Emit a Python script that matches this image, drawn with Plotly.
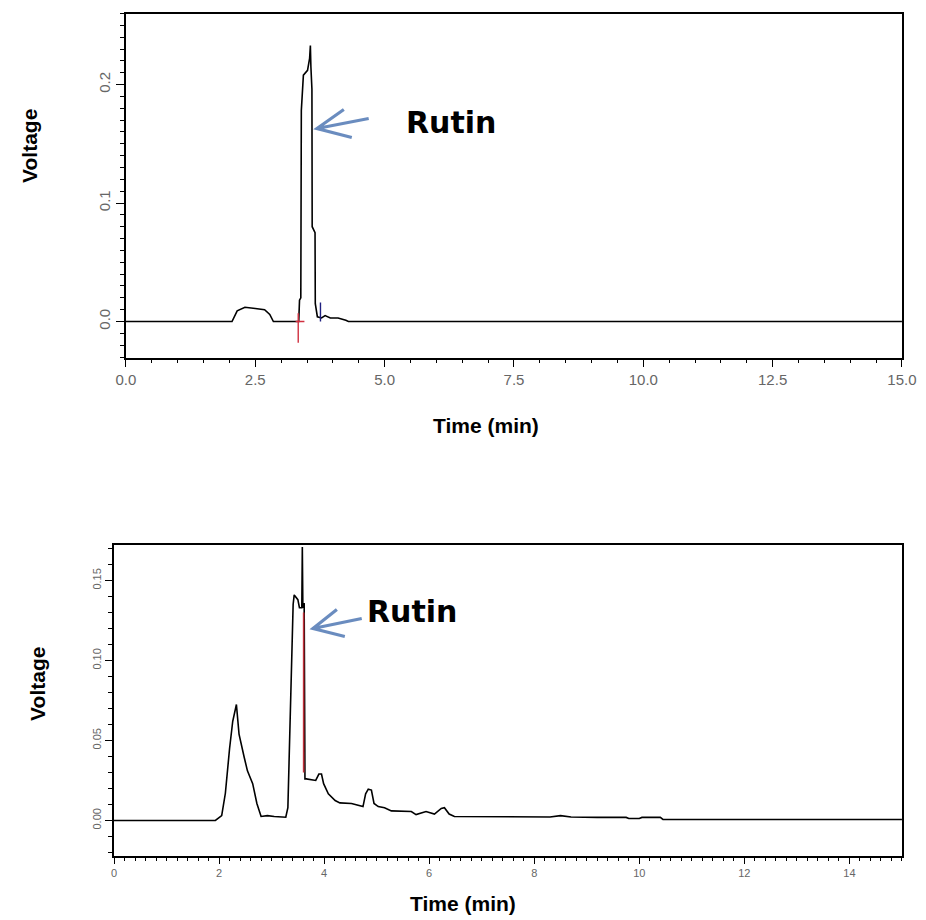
import plotly.graph_objects as go

# chromatogram 1 (standard) - time (min) / voltage
top_time = [0, 2.05, 2.15, 2.3, 2.5, 2.68, 2.78, 2.85, 3.34, 3.355, 3.38, 3.39, 3.43, 3.51,
            3.55, 3.565, 3.575, 3.595, 3.60, 3.655, 3.66, 3.70, 3.78, 3.85, 3.95, 4.1, 4.25, 4.3, 15]
top_volt = [0, 0, 0.009, 0.012, 0.011, 0.010, 0.006, 0.0, 0.0, 0.018, 0.02, 0.178, 0.208, 0.212,
            0.222, 0.233, 0.215, 0.196, 0.08, 0.075, 0.015, 0.004, 0.003, 0.005, 0.003, 0.003, 0.001, 0, 0]

# integration markers on chromatogram 1
top_red_time = [3.33, 3.33, None, 3.28, 3.45]
top_red_volt = [0.007, -0.018, None, 0.0, 0.0]
top_blue_time = [3.76, 3.76]
top_blue_volt = [0.0, 0.016]

# chromatogram 2 (sample)
bot_time = [0, 1.93, 2.05, 2.12, 2.2, 2.26, 2.33, 2.38, 2.475, 2.54, 2.64, 2.72, 2.8, 2.92, 3.05, 3.27,
            3.31, 3.35, 3.38, 3.41, 3.43, 3.47, 3.50, 3.53, 3.575, 3.585, 3.595, 3.62, 3.635, 3.66,
            3.84, 3.9, 3.95, 3.99, 4.08, 4.21, 4.3, 4.52, 4.74, 4.79, 4.84, 4.9, 4.95, 5.03, 5.15,
            5.28, 5.66, 5.75, 5.94, 6.1, 6.23, 6.29, 6.38, 6.48, 6.92, 7.5, 8.3, 8.5, 8.7, 9.2,
            9.75, 9.8, 10.0, 10.05, 10.4, 10.45, 15]
bot_volt = [0, 0, 0.003, 0.017, 0.045, 0.062, 0.0725, 0.054, 0.04, 0.031, 0.023, 0.0106, 0.0025, 0.003,
            0.0025, 0.002, 0.008, 0.06, 0.11, 0.135, 0.141, 0.139, 0.138, 0.133, 0.133, 0.171, 0.133,
            0.136, 0.026, 0.026, 0.025, 0.029, 0.029, 0.023, 0.0167, 0.0125, 0.011, 0.0106, 0.0087,
            0.0167, 0.0196, 0.019, 0.0106, 0.0087, 0.008, 0.006, 0.0056, 0.0037, 0.0056, 0.004,
            0.0075, 0.008, 0.004, 0.0025, 0.0025, 0.0025, 0.0022, 0.003, 0.0022, 0.0019, 0.0019,
            0.0012, 0.0012, 0.0019, 0.0019, 0.0006, 0.0006]

bot_red_time = [3.61, 3.61]
bot_red_volt = [0.13, 0.03]

W, H = 926, 920
# the page puts the figure slightly off the window, compensate (measured)
X_OFF, X_SCALE, Y_OFF = 14.5, 0.978, 7.5


def to_paper_x(x):
    return (x - X_OFF) / X_SCALE / W


def to_paper_y(y):
    return 1 - (y - Y_OFF) / H


def px(x, y):
    return to_paper_x(x), to_paper_y(y)


fig = go.Figure()

fig.add_trace(go.Scatter(x=top_time, y=top_volt, mode='lines',
                         line=dict(color='black', width=1.6), xaxis='x', yaxis='y'))
fig.add_trace(go.Scatter(x=top_red_time, y=top_red_volt, mode='lines',
                         line=dict(color='#d03040', width=1.4), xaxis='x', yaxis='y'))
fig.add_trace(go.Scatter(x=top_blue_time, y=top_blue_volt, mode='lines',
                         line=dict(color='#202080', width=1.4), xaxis='x', yaxis='y'))

fig.add_trace(go.Scatter(x=bot_time, y=bot_volt, mode='lines',
                         line=dict(color='black', width=1.6), xaxis='x2', yaxis='y2'))
fig.add_trace(go.Scatter(x=bot_red_time, y=bot_red_volt, mode='lines',
                         line=dict(color='#c0303a', width=1.6), xaxis='x2', yaxis='y2'))

tickfont_top = dict(family='Liberation Sans, Arial', size=15, color='#666666')
tickfont_bot = dict(family='Liberation Sans, Arial', size=11, color='#666666')

axis_common = dict(showgrid=False, zeroline=False, showline=True, linecolor='black',
                   linewidth=1.5, mirror=True, ticks='outside', tickcolor='black', tickwidth=1.3)

fig.update_layout(
    width=W, height=H, autosize=False,
    margin=dict(l=0, r=0, t=0, b=0),
    plot_bgcolor='white', paper_bgcolor='white',
    showlegend=False,
    xaxis=dict(domain=[to_paper_x(123), to_paper_x(903)], range=[0, 15], anchor='y',
               tickmode='linear', tick0=0, dtick=2.5, tickformat='.1f', ticklen=8,
               minor=dict(dtick=0.5, ticklen=4, ticks='outside', tickcolor='black'),
               tickfont=tickfont_top, **axis_common),
    yaxis=dict(domain=[to_paper_y(357), to_paper_y(13)], range=[-0.0304, 0.26], anchor='x',
               tickmode='linear', tick0=0, dtick=0.1, tickformat='.1f', ticklen=8, tickangle=-90,
               minor=dict(dtick=0.01, ticklen=4, ticks='outside', tickcolor='black'),
               tickfont=tickfont_top, **axis_common),
    xaxis2=dict(domain=[to_paper_x(111), to_paper_x(903)], range=[0, 15], anchor='y2',
                tickmode='linear', tick0=0, dtick=2, ticklen=7,
                minor=dict(dtick=0.2, ticklen=4, ticks='outside', tickcolor='black'),
                tickfont=tickfont_bot, **axis_common),
    yaxis2=dict(domain=[to_paper_y(855), to_paper_y(544)], range=[-0.0219, 0.1725], anchor='x2',
                tickmode='linear', tick0=0, dtick=0.05, tickformat='.2f', ticklen=7, tickangle=-90,
                minor=dict(dtick=0.01, ticklen=4, ticks='outside', tickcolor='black'),
                tickfont=tickfont_bot, **axis_common),
)

title_font = dict(family='Liberation Sans, Arial', size=21, color='black')
rutin_font = dict(family='DejaVu Sans', size=30, color='black')

for (x, y, text, ang, font) in [
    (26, 145, '<b>Voltage</b>', -90, title_font),
    (485, 425, '<b>Time (min)</b>', 0, title_font),
    (34, 683, '<b>Voltage</b>', -90, title_font),
    (462, 903, '<b>Time (min)</b>', 0, title_font),
    (450, 122, '<b>Rutin</b>', 0, rutin_font),
    (411, 611, '<b>Rutin</b>', 0, rutin_font),
]:
    ax, ay = px(x, y)
    fig.add_annotation(x=ax, y=ay, xref='paper', yref='paper', text=text, textangle=ang,
                       showarrow=False, font=font, xanchor='center', yanchor='middle')

# open chevron arrows pointing at the rutin peaks
arrow_color = 'rgba(80,120,180,0.85)'
for tip, tail, arm1, arm2 in [
    ((315, 128), (367, 118), (342, 109), (350, 137)),
    ((311, 628), (360, 618), (335, 609), (343, 636)),
]:
    t = px(*tip)
    path = 'M {} {} L {} {} M {} {} L {} {} L {} {}'.format(
        *px(*tail), *t, *px(*arm1), *t, *px(*arm2))
    fig.add_shape(type='path', path=path, xref='paper', yref='paper',
                  line=dict(color=arrow_color, width=3.2))

fig.write_html('out.html')
